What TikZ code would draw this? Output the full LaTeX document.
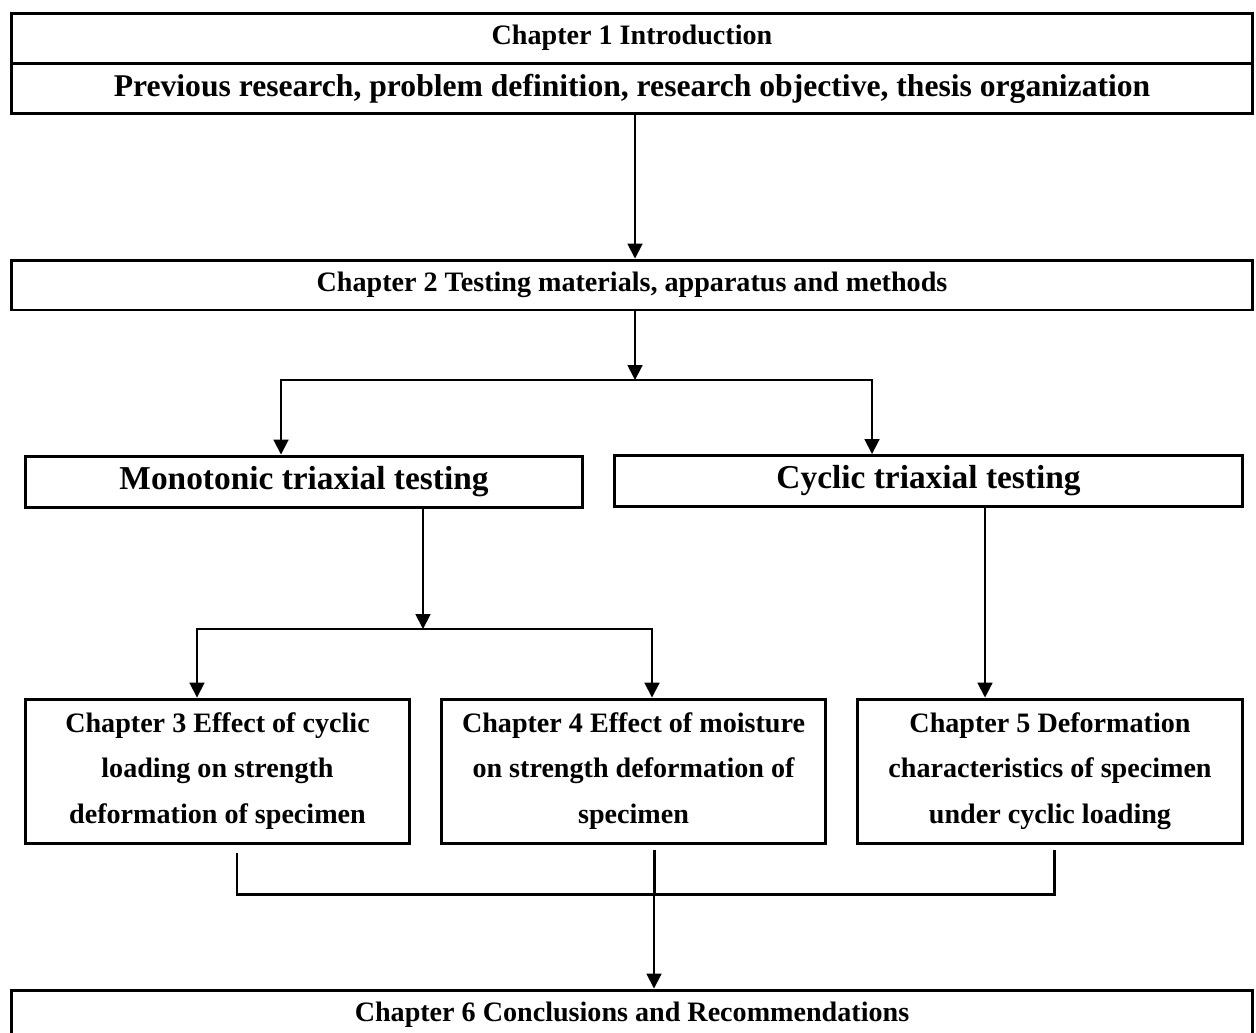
\documentclass[tikz,border=0pt]{standalone}
\usepackage{fontspec}
\setmainfont{Liberation Serif}
\usetikzlibrary{arrows.meta,calc}
\tikzset{
  chbox/.style  = {draw, line width=1.7pt, align=center, inner sep=0pt,
                   font=\fontsize{16}{26}\selectfont\bfseries},
  wide/.style   = {chbox, minimum width=24.84cm, minimum height=1.0cm},
  % test boxes use a larger font
  testbox/.style = {chbox, minimum height=1.02cm,
                    font=\fontsize{19}{23}\selectfont\bfseries},
  chapbox/.style = {chbox, minimum width=7.7cm, minimum height=2.88cm},
  link/.style   = {line width=1.1pt},
  arr/.style    = {link, -{Triangle[width=8.5pt,length=8.5pt]}},
  merge/.style  = {line width=1.7pt},
}
\begin{document}
\begin{tikzpicture}[x=0.02cm, y=-0.02cm]
    \useasboundingbox (0,0) rectangle (1256,1032);

    \node[wide] (intro) at (632,38) {Chapter 1 Introduction};
    \node[wide, font=\fontsize{18}{22}\selectfont\bfseries] (prev) at (632,88.5)
      {Previous research, problem definition, research objective, thesis organization};

    \node[wide] (ch2) at (632,285) {Chapter 2 Testing materials, apparatus and methods};

    \node[testbox, minimum width=11.16cm] (mono) at (304,481.5) {Monotonic triaxial testing};
    \node[testbox, minimum width=12.58cm] (cyc) at (928.5,481) {Cyclic triaxial testing};

    \node[chapbox] (ch3) at (217.5,771) {Chapter 3 Effect of cyclic\\ loading on strength\\ deformation of specimen};
    \node[chapbox] (ch4) at (633.5,771) {Chapter 4 Effect of moisture\\ on strength deformation of\\ specimen};
    \node[chapbox] (ch5) at (1050,771) {Chapter 5 Deformation\\ characteristics of specimen\\ under cyclic loading};

    \node[wide] (ch6) at (632,1015) {Chapter 6 Conclusions and Recommendations};

    \coordinate (split) at (635,380);
    \coordinate (cl) at (281,0);
    \coordinate (cr) at (872,0);
    \coordinate (msplit) at (423,629);
    \coordinate (l3) at (197,0);
    \coordinate (l4) at (652,0);
    \coordinate (c5) at (985,0);
    \coordinate (k3) at (237,894);
    \coordinate (join) at (654,894);
    \coordinate (k5) at (1054,894);

    \draw[arr] (prev.south -| split) -- (ch2.north -| split);
    \draw[arr] (ch2.south -| split) -- (split);
    \draw[arr] (split) -| (mono.north -| cl);
    \draw[arr] (split) -| (cyc.north -| cr);
    \draw[arr] (mono.south -| msplit) -- (msplit);
    \draw[arr] (msplit) -| (ch3.north -| l3);
    \draw[arr] (msplit) -| (ch4.north -| l4);
    \draw[arr] (cyc.south -| c5) -- (ch5.north -| c5);
    \draw[merge] ($(ch3.south -| k3)+(0,8)$) -- (k3) -- (k5) -- ($(ch5.south -| k5)+(0,5)$);
    \draw[merge] ($(ch4.south -| join)+(0,5)$) -- (join);
    \draw[arr] (join) -- (ch6.north -| join);
\end{tikzpicture}
\end{document}
